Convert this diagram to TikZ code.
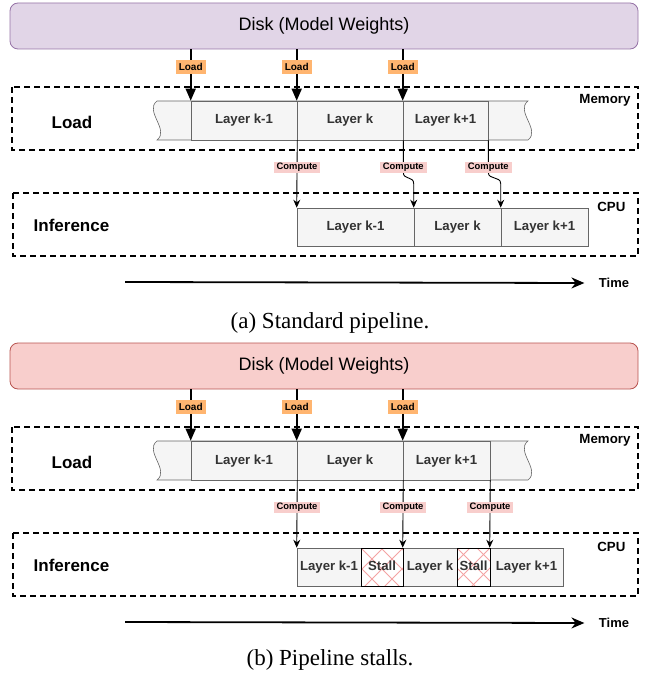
\documentclass[tikz,border=0pt]{standalone}
\usepackage{fontspec}
\setmainfont{Liberation Sans}
\newfontfamily\captionserif{Liberation Serif}
\usetikzlibrary{positioning, arrows.meta}

\definecolor{diskAfill}{HTML}{E1D5E7}
\definecolor{diskAline}{HTML}{9673A6}
\definecolor{diskBfill}{HTML}{F8CECC}
\definecolor{diskBline}{HTML}{B85450}
\definecolor{loadorange}{HTML}{FFB570}
\definecolor{computepink}{HTML}{F8CECC}
\definecolor{cellfill}{HTML}{F5F5F5}
\definecolor{celledge}{HTML}{666666}
\definecolor{celltext}{HTML}{333333}
\definecolor{hatchred}{HTML}{F4A3A3}

\begin{document}
\begin{tikzpicture}[x=1pt, y=-1pt,
    disk/.style={rectangle, rounded corners=8pt,
        draw=diskAline, % Box colour (edge).
        fill=diskAfill, % Box fill colour.
        line width=0.8pt,
        minimum width=628pt, minimum height=46pt, inner sep=0pt,
        font=\fontsize{18}{20}\selectfont},
    cell/.style={rectangle, draw=celledge, fill=cellfill, text=celltext,
        line width=0.6pt, minimum height=38pt, inner sep=0pt,
        text height=9.6pt, text depth=2.6pt,
        font=\fontsize{13.2}{15}\selectfont\bfseries},
    hatch/.style={draw=hatchred, line width=0.8pt},
    stallcell/.style={cell, draw=black, fill=white,
        path picture={\foreach \d in {-60,-40,...,60} {
            \draw[hatch] ([xshift=\d pt]path picture bounding box.north west) -- ++(60pt,-60pt);
            \draw[hatch] ([xshift=\d pt]path picture bounding box.north east) -- ++(-60pt,-60pt);}}},
    tape/.style={draw=celledge, fill=cellfill, line width=0.6pt},
    region/.style={draw=black, line width=1.5pt, dash pattern=on 6pt off 4pt},
    rowlbl/.style={font=\fontsize{17}{19}\selectfont\bfseries},
    unitlbl/.style={anchor=east, font=\fontsize{13.3}{15}\selectfont\bfseries},
    timelbl/.style={font=\fontsize{13}{15}\selectfont\bfseries},
    loadlbl/.style={fill=loadorange, inner xsep=3pt, inner ysep=0pt,
        minimum height=14pt, font=\fontsize{10}{12}\selectfont\bfseries},
    complbl/.style={fill=computepink, inner xsep=3pt, inner ysep=0pt,
        minimum height=11pt, font=\fontsize{9.4}{11}\selectfont\bfseries},
    loadarrow/.style={line width=1.6pt, -{Triangle[width=10pt,length=12pt]}},
    comparrow/.style={draw=black, line width=0.9pt, -{Stealth[width=7pt,length=8pt]}},
    timearrow/.style={line width=1.8pt, -{Stealth[width=11pt,length=13pt]}},
    caption/.style={font=\captionserif\fontsize{23}{26}\selectfont}]

    \useasboundingbox (0,0) rectangle (660,679);

    % (a) Standard pipeline.
    \node[disk] (diskA) at (324,26) {Disk (Model Weights)};

    % Memory row.
    \draw[region] (12,87) rectangle (638,150);
    \node[rowlbl] (loadA) at (72,122) {Load};
    \node[unitlbl] (memlblA) at (634,100) {Memory};
    \draw[tape] (157,101) -- (528,101) .. controls (515,111) and (541,130) .. (528,140)
        -- (157,140) .. controls (170,130) and (144,111) .. (157,101) -- cycle;
    \foreach \n/\x/\w/\txt in {1/244/106/{Layer k-1}, 2/350/106/{Layer k}, 3/445.5/85/{Layer k+1}}
        \node[cell, minimum width=\w pt, minimum height=39pt] (memA\n) at (\x,120.5) {\txt};

    % CPU row.
    \draw[region] (13,193) rectangle (638,256);
    \node[rowlbl] (infA) at (71.5,225) {Inference};
    \node[unitlbl] (cpulblA) at (629,207) {CPU};
    \foreach \n/\x/\w/\txt in {1/355.5/117/{Layer k-1}, 2/457.5/87/{Layer k}, 3/544.5/87/{Layer k+1}}
        \node[cell, minimum width=\w pt] (cpuA\n) at (\x,227) {\txt};

    % Load edges.
    \foreach \n in {1,2,3}
        \draw[loadarrow] (memA\n.north west |- diskA.south) -- node[loadlbl, pos=0.35] {Load} (memA\n.north west);

    % Compute edges.
    \draw[comparrow] (memA1.south east) -- node[complbl, pos=0.4] {Compute} (cpuA1.north west);
    \foreach \n in {2,3}
        \draw[comparrow] (memA\n.south east) -- ++(0,32) node[complbl, pos=0.84] {Compute}
            .. controls +(0,8) and +(0,-8) .. ([yshift=24pt]cpuA\n.north west) -- (cpuA\n.north west);

    % Time axis.
    \coordinate (tstartA) at (125,282);
    \node[timelbl] (timeA) at (614,283) {Time};
    \draw[timearrow] (tstartA) -- ([xshift=-11pt]timeA.west);

    \node[caption] (capA) at (330,323) {(a) Standard pipeline.};

    % (b) Pipeline stalls.
    \begin{scope}[shift={(0,340)}]
        \node[disk, draw=diskBline, fill=diskBfill] (diskB) at (324,26) {Disk (Model Weights)};

        % Memory row.
        \draw[region] (12,87) rectangle (638,150);
        \node[rowlbl] (loadB) at (72,122) {Load};
        \node[unitlbl] (memlblB) at (634,100) {Memory};
        \draw[tape] (157,101) -- (528,101) .. controls (515,111) and (541,130) .. (528,140)
            -- (157,140) .. controls (170,130) and (144,111) .. (157,101) -- cycle;
        \foreach \n/\x/\w/\txt in {1/244/106/{Layer k-1}, 2/350/106/{Layer k}, 3/446.5/87/{Layer k+1}}
            \node[cell, minimum width=\w pt, minimum height=39pt] (memB\n) at (\x,120.5) {\txt};

        % CPU row.
        \draw[region] (13,193) rectangle (638,256);
        \node[rowlbl] (infB) at (71.5,225) {Inference};
        \node[unitlbl] (cpulblB) at (629,207) {CPU};
        \foreach \n/\x/\w/\txt in {1/329/64/{Layer k-1}, 2/430/54/{Layer k}, 3/526.5/73/{Layer k+1}}
            \node[cell, minimum width=\w pt] (cpuB\n) at (\x,227) {\txt};
        \foreach \n/\x/\w in {1/382/42, 2/473.5/33}
            \node[stallcell, minimum width=\w pt] (stallB\n) at (\x,227) {Stall};

        % Load edges.
        \foreach \n in {1,2,3}
            \draw[loadarrow] (memB\n.north west |- diskB.south) -- node[loadlbl, pos=0.35] {Load} (memB\n.north west);

        % Compute edges.
        \foreach \n in {1,2,3}
            \draw[comparrow] (memB\n.south east) -- node[complbl, pos=0.4] {Compute} (cpuB\n.north west);

        % Time axis.
        \coordinate (tstartB) at (125,282);
        \node[timelbl] (timeB) at (614,283) {Time};
        \draw[timearrow] (tstartB) -- ([xshift=-11pt]timeB.west);

        \node[caption] (capB) at (330,320) {(b) Pipeline stalls.};
    \end{scope}
\end{tikzpicture}
\end{document}
